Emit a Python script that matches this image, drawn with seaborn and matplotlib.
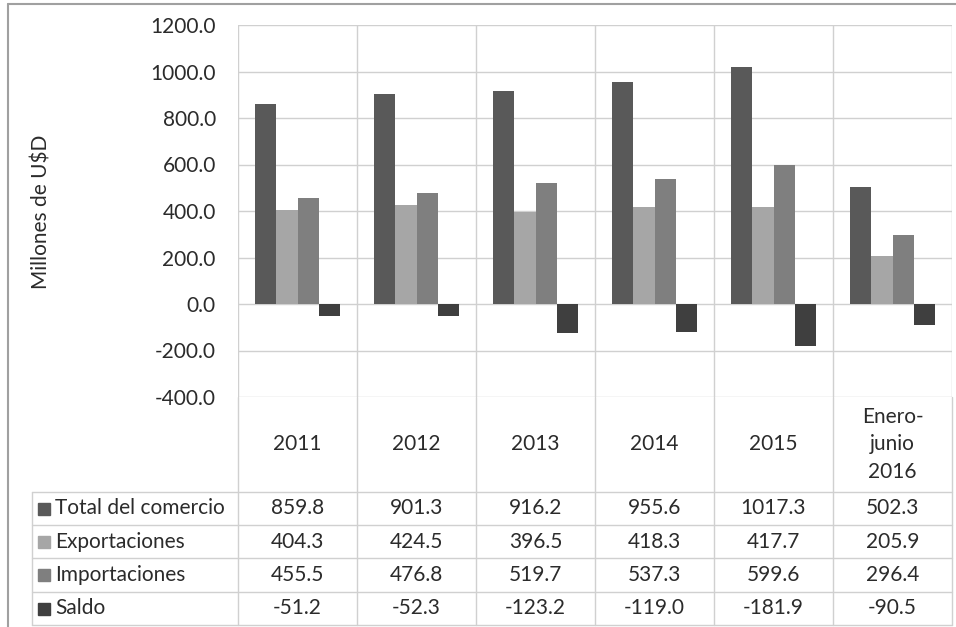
import matplotlib
matplotlib.use("Agg")
import matplotlib.pyplot as plt
import numpy as np
import pandas as pd
import seaborn as sns

periodos = ["2011", "2012", "2013", "2014", "2015", "Enero-\njunio\n2016"]
series = ["Total del comercio", "Exportaciones", "Importaciones", "Saldo"]
total = [859.8, 901.3, 916.2, 955.6, 1017.3, 502.3]
exportaciones = [404.3, 424.5, 396.5, 418.3, 417.7, 205.9]
importaciones = [455.5, 476.8, 519.7, 537.3, 599.6, 296.4]
saldo = [-51.2, -52.3, -123.2, -119.0, -181.9, -90.5]
colores = ["#595959", "#a6a6a6", "#7f7f7f", "#3f3f3f"]
yticks = [-400, -200, 0, 200, 400, 600, 800, 1000, 1200]

valores = [total, exportaciones, importaciones, saldo]
df = pd.DataFrame([
    {"periodo": p, "serie": s, "valor": v}
    for s, vals in zip(series, valores)
    for p, v in zip(periodos, vals)
])

sns.set_theme(style="white")
plt.rcParams["font.family"] = ["Lato", "DejaVu Sans"]
W, H = 956, 627
FS = 15
TXT = "#2b2b2b"
fig = plt.figure(figsize=(W / 100, H / 100), dpi=100)

x0, x1, ytop, ybot = 238, 952, 25, 397
ax = fig.add_axes([x0 / W, 1 - ybot / H, (x1 - x0) / W, (ybot - ytop) / H])
sns.barplot(data=df, x="periodo", y="valor", hue="serie", palette=colores,
            width=0.72, ax=ax, legend=False, saturation=1, zorder=3)
ax.set_ylim(-400, 1200)
ax.set_xlim(-0.5, len(periodos) - 0.5)
ax.set_yticks(yticks)
ax.set_yticklabels([f"{t:.1f}" for t in yticks], fontsize=FS, color=TXT)
ax.set_xticks(np.arange(-0.5, len(periodos)), minor=True)
ax.set_xticks([])
ax.tick_params(axis="both", length=0, pad=16)
ax.grid(axis="y", color="#d0d0d0", linewidth=1, zorder=0)
ax.grid(axis="x", which="minor", color="#d0d0d0", linewidth=1, zorder=0)
ax.set_xlabel("")
ax.set_ylabel("")
for sp in ax.spines.values():
    sp.set_visible(False)
for patch in ax.patches:
    patch.set_edgecolor("none")

fig.text(42 / W, 1 - 212 / H, "Millones de U$D", rotation=90, ha="center",
         va="center", fontsize=FS, color=TXT)

# data table below the plot
tab = fig.add_axes([0, 0, 1, 1], zorder=5)
tab.set_xlim(0, W)
tab.set_ylim(H, 0)
tab.axis("off")
tab.patch.set_alpha(0)
line_kw = dict(color="#d0d0d0", linewidth=1)
cw = (x1 - x0) / len(periodos)
row_y = [492, 525, 558, 592, 625]
for i in range(len(periodos) + 1):
    tab.plot([x0 + i * cw] * 2, [ybot, row_y[-1]], **line_kw)
tab.plot([32, 32], [row_y[0], row_y[-1]], **line_kw)
for y in row_y:
    tab.plot([32, x1], [y, y], **line_kw)

for i, p in enumerate(periodos):
    tab.text(x0 + (i + 0.5) * cw, (ybot + row_y[0]) / 2, p, ha="center",
             va="center", fontsize=FS, color=TXT, linespacing=1.45)
for r, (s, vals, c) in enumerate(zip(series, valores, colores)):
    yc = (row_y[r] + row_y[r + 1]) / 2
    tab.add_patch(plt.Rectangle((38, yc - 6), 12, 12, color=c))
    tab.text(55, yc, s, ha="left", va="center", fontsize=FS, color=TXT)
    for i, v in enumerate(vals):
        tab.text(x0 + (i + 0.5) * cw, yc, f"{v:.1f}", ha="center", va="center",
                 fontsize=FS, color=TXT)

# outer chart border
tab.plot([8, W], [4, 4], color="#a0a0a0", linewidth=1.5)
tab.plot([8, 8], [4, H], color="#a0a0a0", linewidth=1.5)

fig.savefig("out.png", dpi=100)
